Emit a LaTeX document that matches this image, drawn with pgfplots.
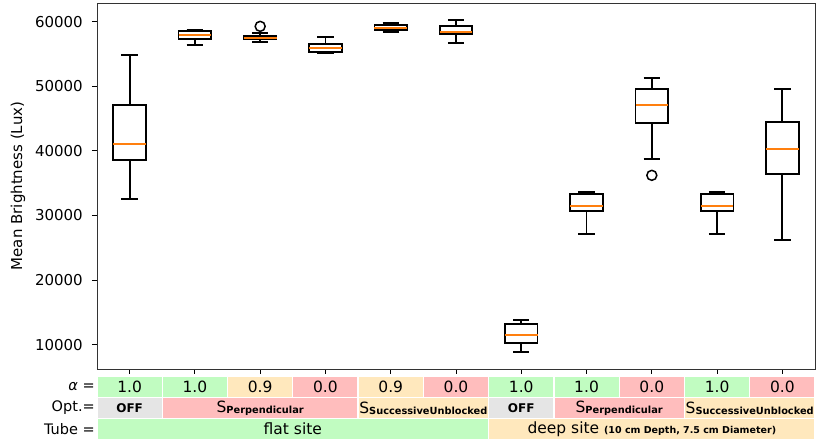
\documentclass[border=0pt]{standalone}
\usepackage{fontspec}
\setmainfont{DejaVu Sans}
\usepackage{pgfplots}
\pgfplotsset{compat=1.18}
\usepgfplotslibrary{statistics}
\definecolor{cgreen}{HTML}{C1FCC1}
\definecolor{cpeach}{HTML}{FFE8BD}
\definecolor{cpink}{HTML}{FFBDBD}
\definecolor{cgray}{HTML}{E5E5E5}
\definecolor{corange}{HTML}{FF7F0E}
\newcommand{\fs}{\fontsize{15.5pt}{18pt}\selectfont}
\newcommand{\ft}{\fontsize{15pt}{18pt}\selectfont}
\newcommand{\fr}{\fontsize{14.5pt}{17pt}\selectfont}
\newcommand{\fb}{\fontsize{9.8pt}{11pt}\selectfont\bfseries}
\newcommand{\cell}[5]{\fill[#5, draw=white, line width=1.2pt] ([yshift=#3]axis cs:#1,6.235) rectangle ([yshift=#4]axis cs:#2,6.235);}
\newcommand{\Ssub}[1]{S\raisebox{-1pt}{\fb #1}}
% values below are in thousands of lux
\begin{document}
\begin{tikzpicture}
\begin{axis}[
  scale only axis, width=718pt, height=366pt,
  xmin=0.5, xmax=11.5, ymin=6.235, ymax=62.885,
  xtick={1,...,11}, xticklabels={},
  ytick={10,20,30,40,50,60},
  yticklabels={10000,20000,30000,40000,50000,60000},
  tick pos=left,
  tick align=outside, major tick length=5pt,
  tick style={black, line width=0.9pt},
  axis line style={black!80, line width=0.9pt},
  yticklabel style={font=\ft, inner sep=0pt, anchor=east, xshift=-9pt},
  ylabel={Mean Brightness (Lux)},
  every axis y label/.style={at={(axis description cs:-0.11,0.5)}, rotate=90, anchor=center, font=\ft},
  clip=false,
  boxplot/draw direction=y,
  boxplot/every box/.style={draw=black, line width=1.8pt},
  boxplot/every whisker/.style={draw=black, line width=1.8pt},
  boxplot/every median/.style={draw=corange, line width=2pt},
  every axis plot/.append style={black, line width=1.8pt, mark=o, mark size=5pt, mark options={solid, draw=black, line width=1.5pt}},
]
\addplot[boxplot prepared={draw position=1, lower whisker=32.55, lower quartile=38.64, median=41.115, upper quartile=47.15, upper whisker=54.89, box extend=0.5, whisker extend=0.25}] coordinates {};
\addplot[boxplot prepared={draw position=2, lower whisker=56.44, lower quartile=57.26, median=57.88, upper quartile=58.5, upper whisker=58.76, box extend=0.5, whisker extend=0.25}] coordinates {};
\addplot[boxplot prepared={draw position=3, lower whisker=56.8, lower quartile=57.26, median=57.52, upper quartile=57.83, upper whisker=58.25, box extend=0.5, whisker extend=0.25}] table[row sep=\\, y index=0] {59.27\\};
\addplot[boxplot prepared={draw position=4, lower whisker=55.2, lower quartile=55.25, median=55.97, upper quartile=56.55, upper whisker=57.57, box extend=0.5, whisker extend=0.25}] coordinates {};
\addplot[boxplot prepared={draw position=5, lower whisker=58.34, lower quartile=58.76, median=59.07, upper quartile=59.49, upper whisker=59.8, box extend=0.5, whisker extend=0.25}] coordinates {};
\addplot[boxplot prepared={draw position=6, lower whisker=56.7, lower quartile=58.14, median=58.4, upper quartile=59.27, upper whisker=60.31, box extend=0.5, whisker extend=0.25}] coordinates {};
\addplot[boxplot prepared={draw position=7, lower whisker=8.81, lower quartile=10.26, median=11.44, upper quartile=13.2, upper whisker=13.87, box extend=0.5, whisker extend=0.25}] coordinates {};
\addplot[boxplot prepared={draw position=8, lower whisker=27.18, lower quartile=30.7, median=31.52, upper quartile=33.33, upper whisker=33.58, box extend=0.5, whisker extend=0.25}] coordinates {};
\addplot[boxplot prepared={draw position=9, lower whisker=38.68, lower quartile=44.37, median=47.1, upper quartile=49.63, upper whisker=51.28, box extend=0.5, whisker extend=0.25}] table[row sep=\\, y index=0] {36.21\\};
\addplot[boxplot prepared={draw position=10, lower whisker=27.18, lower quartile=30.7, median=31.52, upper quartile=33.33, upper whisker=33.58, box extend=0.5, whisker extend=0.25}] coordinates {};
\addplot[boxplot prepared={draw position=11, lower whisker=26.22, lower quartile=36.36, median=40.23, upper quartile=44.52, upper whisker=49.63, box extend=0.5, whisker extend=0.25}] coordinates {};
% table row 1: alpha
\cell{0.5}{1.5}{-7.5pt}{-28.3pt}{cgreen}
\cell{1.5}{2.5}{-7.5pt}{-28.3pt}{cgreen}
\cell{2.5}{3.5}{-7.5pt}{-28.3pt}{cpeach}
\cell{3.5}{4.5}{-7.5pt}{-28.3pt}{cpink}
\cell{4.5}{5.5}{-7.5pt}{-28.3pt}{cpeach}
\cell{5.5}{6.5}{-7.5pt}{-28.3pt}{cpink}
\cell{6.5}{7.5}{-7.5pt}{-28.3pt}{cgreen}
\cell{7.5}{8.5}{-7.5pt}{-28.3pt}{cgreen}
\cell{8.5}{9.5}{-7.5pt}{-28.3pt}{cpink}
\cell{9.5}{10.5}{-7.5pt}{-28.3pt}{cgreen}
\cell{10.5}{11.5}{-7.5pt}{-28.3pt}{cpink}
% row 2: option
\cell{0.5}{1.5}{-28.3pt}{-49.5pt}{cgray}
\cell{1.5}{4.5}{-28.3pt}{-49.5pt}{cpink}
\cell{4.5}{6.5}{-28.3pt}{-49.5pt}{cpeach}
\cell{6.5}{7.5}{-28.3pt}{-49.5pt}{cgray}
\cell{7.5}{9.5}{-28.3pt}{-49.5pt}{cpink}
\cell{9.5}{11.5}{-28.3pt}{-49.5pt}{cpeach}
% row 3: tube
\cell{0.5}{6.5}{-49.5pt}{-70.5pt}{cgreen}
\cell{6.5}{11.5}{-49.5pt}{-70.5pt}{cpeach}
% row 1 texts
\node[font=\fs] at ([yshift=-18pt]axis cs:1,6.235) {1.0};
\node[font=\fs] at ([yshift=-18pt]axis cs:2,6.235) {1.0};
\node[font=\fs] at ([yshift=-18pt]axis cs:3,6.235) {0.9};
\node[font=\fs] at ([yshift=-18pt]axis cs:4,6.235) {0.0};
\node[font=\fs] at ([yshift=-18pt]axis cs:5,6.235) {0.9};
\node[font=\fs] at ([yshift=-18pt]axis cs:6,6.235) {0.0};
\node[font=\fs] at ([yshift=-18pt]axis cs:7,6.235) {1.0};
\node[font=\fs] at ([yshift=-18pt]axis cs:8,6.235) {1.0};
\node[font=\fs] at ([yshift=-18pt]axis cs:9,6.235) {0.0};
\node[font=\fs] at ([yshift=-18pt]axis cs:10,6.235) {1.0};
\node[font=\fs] at ([yshift=-18pt]axis cs:11,6.235) {0.0};
% row 2 texts
\node[font=\fontsize{12pt}{14pt}\selectfont\bfseries] at ([yshift=-39pt]axis cs:1,6.235) {OFF};
\node[font=\fs] at ([yshift=-39pt]axis cs:3,6.235) {\Ssub{Perpendicular}};
\node[font=\fs] at ([yshift=-39pt]axis cs:5.5,6.235) {\Ssub{SuccessiveUnblocked}};
\node[font=\fontsize{12pt}{14pt}\selectfont\bfseries] at ([yshift=-39pt]axis cs:7,6.235) {OFF};
\node[font=\fs] at ([yshift=-39pt]axis cs:8.5,6.235) {\Ssub{Perpendicular}};
\node[font=\fs] at ([yshift=-39pt]axis cs:10.5,6.235) {\Ssub{SuccessiveUnblocked}};
% row 3 texts
\node[font=\fs] at ([yshift=-60pt]axis cs:3.5,6.235) {flat site};
\node[font=\fs] at ([yshift=-60pt]axis cs:9,6.235) {deep site {\fontsize{9.5pt}{11pt}\selectfont\bfseries (10 cm Depth, 7.5 cm Diameter)}};
% row labels
\node[font=\fr, anchor=east, inner sep=0pt] at ([xshift=-2pt,yshift=-18pt]axis cs:0.5,6.235) {{\itshape α} =};
\node[font=\fr, anchor=east, inner sep=0pt] at ([xshift=-2pt,yshift=-39pt]axis cs:0.5,6.235) {Opt.=};
\node[font=\fr, anchor=east, inner sep=0pt] at ([xshift=-2pt,yshift=-60pt]axis cs:0.5,6.235) {Tube =};
\end{axis}
\pgfresetboundingbox
\path (-97pt,-74pt) rectangle (720pt,369pt);
\end{tikzpicture}
\end{document}
